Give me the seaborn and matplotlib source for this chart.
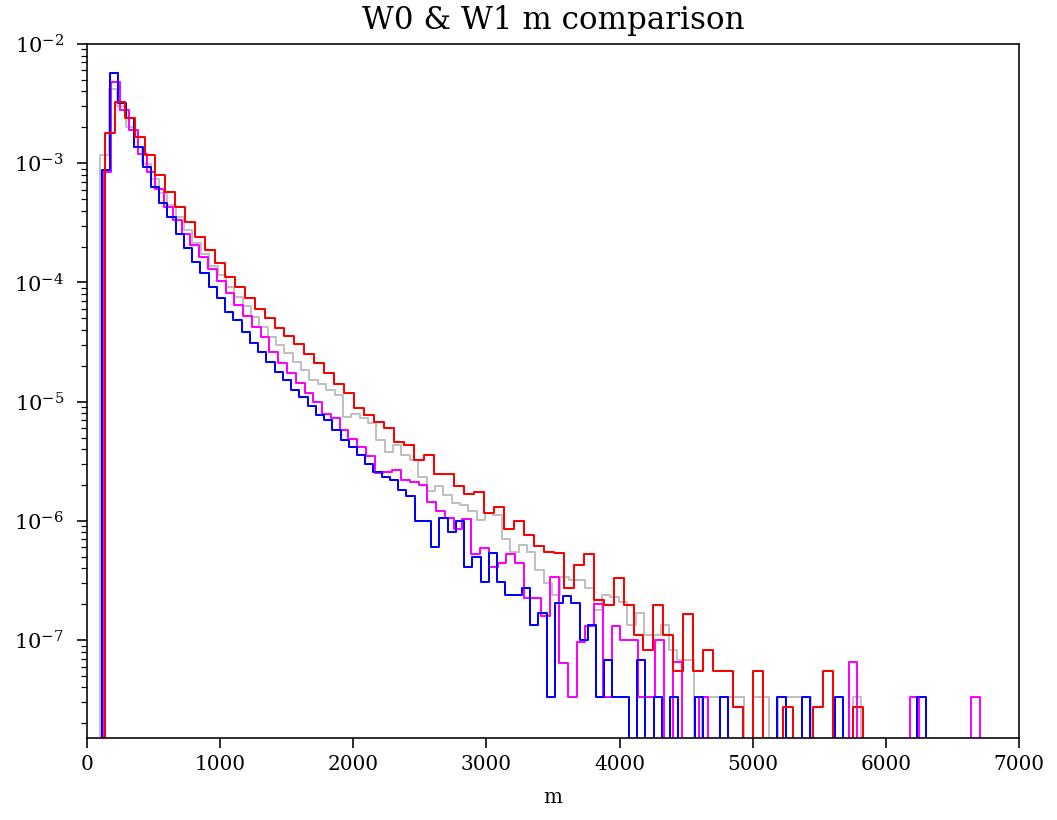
import numpy as np
import pandas as pd
import matplotlib
matplotlib.use("Agg")
import matplotlib.pyplot as plt
import seaborn as sns

plt.rcParams["font.family"] = "DejaVu Serif"
plt.rcParams["mathtext.fontset"] = "dejavuserif"
plt.rcParams["xtick.major.size"] = 5
plt.rcParams["ytick.major.size"] = 5
plt.rcParams["ytick.minor.size"] = 3
plt.rcParams["ytick.major.pad"] = 6.5

# each histogram: first bin edge, bin width (in m) and log10 of the density per bin
# (None = empty bin)
gray_start, gray_width = 101, 62.8
gray_log = [
    -2.930, -2.380, -2.520, -2.700, -2.860, -3.010, -3.130, -3.250, -3.350, -3.450,
    -3.560, -3.670, -3.760, -3.860, -3.940, -4.040, -4.120, -4.200, -4.290, -4.370,
    -4.455, -4.525, -4.595, -4.665, -4.735, -4.820, -4.850, -4.900, -4.945, -5.130,
    -5.100, -5.140, -5.180, -5.320, -5.420, -5.360, -5.450, -5.490, -5.630, -5.750,
    -5.710, -5.780, -5.850, -5.870, -5.920, -5.990, -5.930, -5.950, -6.150, -6.260,
    -6.200, -6.260, -6.410, -6.520, -6.620, -6.470, -6.500, -6.500, -6.560, -6.750,
    -6.620, -6.640, -6.680, -6.870, -6.770, -6.960, -6.960, -6.870, -7.080, -7.170,
    -7.170, None, -7.475, -7.475, -7.475, -7.475, -7.475, None, -7.475, -7.475,
    None, -7.475, -7.475, -7.475, -7.475, None, None, None, None, None,
    -7.475,
]

magenta_start, magenta_width = 118, 65.9
magenta_log = [
    -3.070, -2.316, -2.550, -2.720, -2.920, -3.070, -3.220, -3.370, -3.480, -3.590,
    -3.690, -3.790, -3.890, -3.990, -4.090, -4.190, -4.280, -4.370, -4.460, -4.580,
    -4.680, -4.763, -4.847, -4.930, -5.000, -5.100, -5.140, -5.240, -5.310, -5.380,
    -5.460, -5.600, -5.590, -5.570, -5.660, -5.670, -5.700, -5.840, -5.920, -5.980,
    -6.070, -5.985, -6.280, -6.230, -6.390, -6.350, -6.280, -6.350, -6.650, -6.650,
    -6.800, -6.470, -7.190, -7.480, -7.020, -6.880, -6.700, -7.480, -6.880, -7.000,
    -7.000, -7.480, -7.480, -7.000, None, -7.180, None, None, -7.480, None,
    None, None, None, None, None, None, None, None, None, None,
    None, None, None, None, None, -7.180, None, None, None, None,
    None, None, -7.480, None, None, None, None, None, None, -7.480,
]

blue_start, blue_width = 109, 61.9
blue_log = [
    -3.057, -2.246, -2.497, -2.620, -2.860, -3.030, -3.200, -3.330, -3.450, -3.590,
    -3.714, -3.826, -3.924, -4.036, -4.134, -4.245, -4.315, -4.413, -4.511, -4.581,
    -4.665, -4.749, -4.820, -4.900, -4.960, -5.040, -5.110, -5.150, -5.240, -5.320,
    -5.380, -5.450, -5.520, -5.590, -5.630, -5.660, -5.740, -5.790, -6.000, -6.000,
    -6.220, -5.980, -6.090, -6.000, -6.390, -6.300, -6.510, -6.270, -6.510, -6.620,
    -6.620, -6.560, -6.870, -6.770, -7.475, -6.685, -6.630, -6.685, -7.000, -6.870,
    -7.475, -7.170, -7.475, -7.475, None, -7.170, None, -7.475, None, -7.475,
    None, None, -7.475, None, None, -7.475, None, None, None, None,
    None, None, -7.475, None, None, -7.475, None, None, None, -7.475,
    None, None, None, None, None, None, None, None, None, -7.475,
]

red_start, red_width = 135, 74.9
red_log = [
    -2.749, -2.484, -2.623, -2.777, -2.931, -3.099, -3.239, -3.365, -3.490, -3.622,
    -3.728, -3.840, -3.952, -4.036, -4.134, -4.220, -4.300, -4.380, -4.450, -4.520,
    -4.600, -4.680, -4.760, -4.850, -4.930, -5.056, -5.110, -5.170, -5.220, -5.340,
    -5.360, -5.490, -5.448, -5.607, -5.607, -5.708, -5.775, -5.760, -5.930, -5.880,
    -6.070, -6.000, -6.120, -6.210, -6.260, -6.270, -6.560, -6.370, -6.280, -6.660,
    -6.710, -6.480, -6.710, -6.960, -7.080, -6.710, -6.960, -7.260, -6.780, -7.260,
    -7.080, -7.260, -7.260, -7.560, None, -7.260, None, None, -7.560, None,
    None, -7.560, -7.260, None, None, -7.560,
]


def draw_step(ax, start, width, logs, color):
    dens = [0.0 if v is None else 10.0 ** v for v in logs]
    n = len(dens)
    # an empty bin on each side so the outline drops to the baseline at both ends
    edges = start + width * np.arange(-1, n + 2)
    df = pd.DataFrame({
        "m": (edges[:-1] + edges[1:]) / 2,
        "density": [0.0] + dens + [0.0],
    })
    sns.histplot(data=df, x="m", weights="density", bins=list(edges),
                 element="step", fill=False, stat="count", color=color,
                 linewidth=1.0, ax=ax)


fig = plt.figure(figsize=(1057 / 144, 820 / 144), dpi=144)
ax = fig.add_axes([87 / 1057, 1 - 738 / 820, (1019 - 87) / 1057, (738 - 44) / 820])

draw_step(ax, gray_start, gray_width, gray_log, "silver")
draw_step(ax, magenta_start, magenta_width, magenta_log, "magenta")
draw_step(ax, blue_start, blue_width, blue_log, "blue")
draw_step(ax, red_start, red_width, red_log, "red")

ax.set_yscale("log")
ax.set_xlim(0, 7000)
ax.set_ylim(1.508e-8, 1e-2)
ax.set_xticks(range(0, 7001, 1000))
ax.tick_params(axis="y", labelsize=10.5)
ax.set_xlabel("m", labelpad=7)
ax.set_ylabel("")
ax.set_title("W0 & W1 m comparison", fontsize=15.5, pad=7.5)

fig.savefig("out.png", dpi=144)
